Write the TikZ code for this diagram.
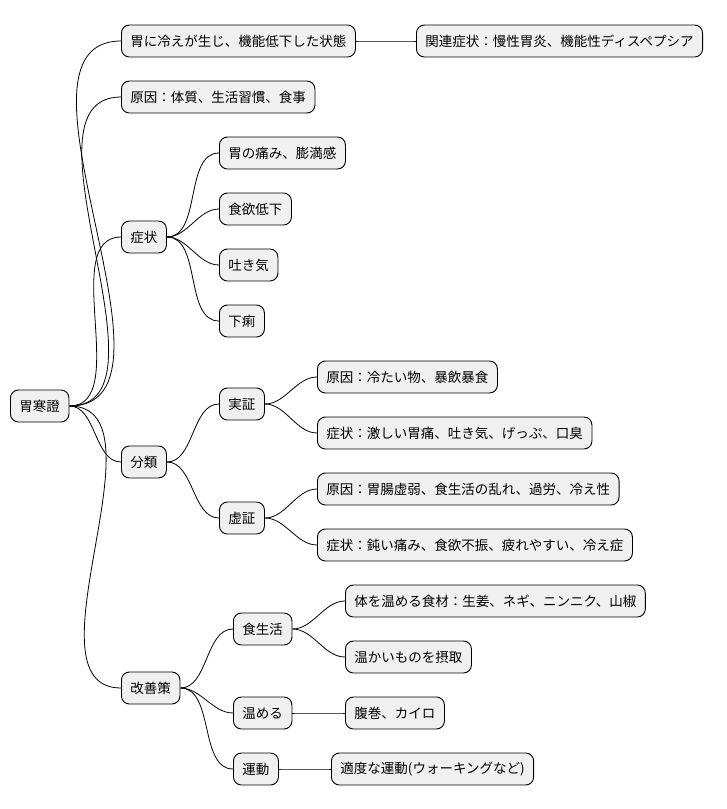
\documentclass[tikz,border=0pt]{standalone}
\usepackage{fontspec}
\setmainfont{Noto Sans CJK JP}
\begin{document}
\begin{tikzpicture}[x=1pt,y=-1pt,
  n/.style={draw=black,line width=0.9pt,fill=black!6,rounded corners=8pt,minimum height=32pt,inner xsep=9pt,anchor=west,font=\fontsize{13.5}{16}\selectfont},
  e/.style={line width=0.8pt,out=0,in=180,looseness=0.9}]
\useasboundingbox (0,0) rectangle (726,809);
\node[n] (r) at (10,406) {胃寒證};
\node[n] (a) at (121,41) {胃に冷えが生じ、機能低下した状態};
\node[n] (a1) at (416,41) {関連症状：慢性胃炎、機能性ディスペプシア};
\node[n] (b) at (121,97) {原因：体質、生活習慣、食事};
\node[n] (c) at (121,237) {症状};
\node[n] (c1) at (219,153) {胃の痛み、膨満感};
\node[n] (c2) at (219,209) {食欲低下};
\node[n] (c3) at (219,265) {吐き気};
\node[n] (c4) at (219,321) {下痢};
\node[n] (d) at (121,462) {分類};
\node[n] (d1) at (219,404) {実証};
\node[n] (d11) at (317,377) {原因：冷たい物、暴飲暴食};
\node[n] (d12) at (317,433) {症状：激しい胃痛、吐き気、げっぷ、口臭};
\node[n] (d2) at (219,518) {虚証};
\node[n] (d21) at (317,489) {原因：胃腸虚弱、食生活の乱れ、過労、冷え性};
\node[n] (d22) at (317,545) {症状：鈍い痛み、食欲不振、疲れやすい、冷え症};
\node[n] (f) at (121,688) {改善策};
\node[n] (f1) at (233,629) {食生活};
\node[n] (f11) at (345,601) {体を温める食材：生姜、ネギ、ニンニク、山椒};
\node[n] (f12) at (345,657) {温かいものを摂取};
\node[n] (f2) at (233,713) {温める};
\node[n] (f21) at (345,713) {腹巻、カイロ};
\node[n] (f3) at (233,769) {運動};
\node[n] (f31) at (331,769) {適度な運動(ウォーキングなど)};
\foreach \p/\c in {r/a,r/b,r/c,r/d,r/f,a/a1,c/c1,c/c2,c/c3,c/c4,d/d1,d/d2,d1/d11,d1/d12,d2/d21,d2/d22,f/f1,f/f2,f/f3,f1/f11,f1/f12,f2/f21,f3/f31}
  \draw[e] (\p.east) to (\c.west);
\end{tikzpicture}
\end{document}
